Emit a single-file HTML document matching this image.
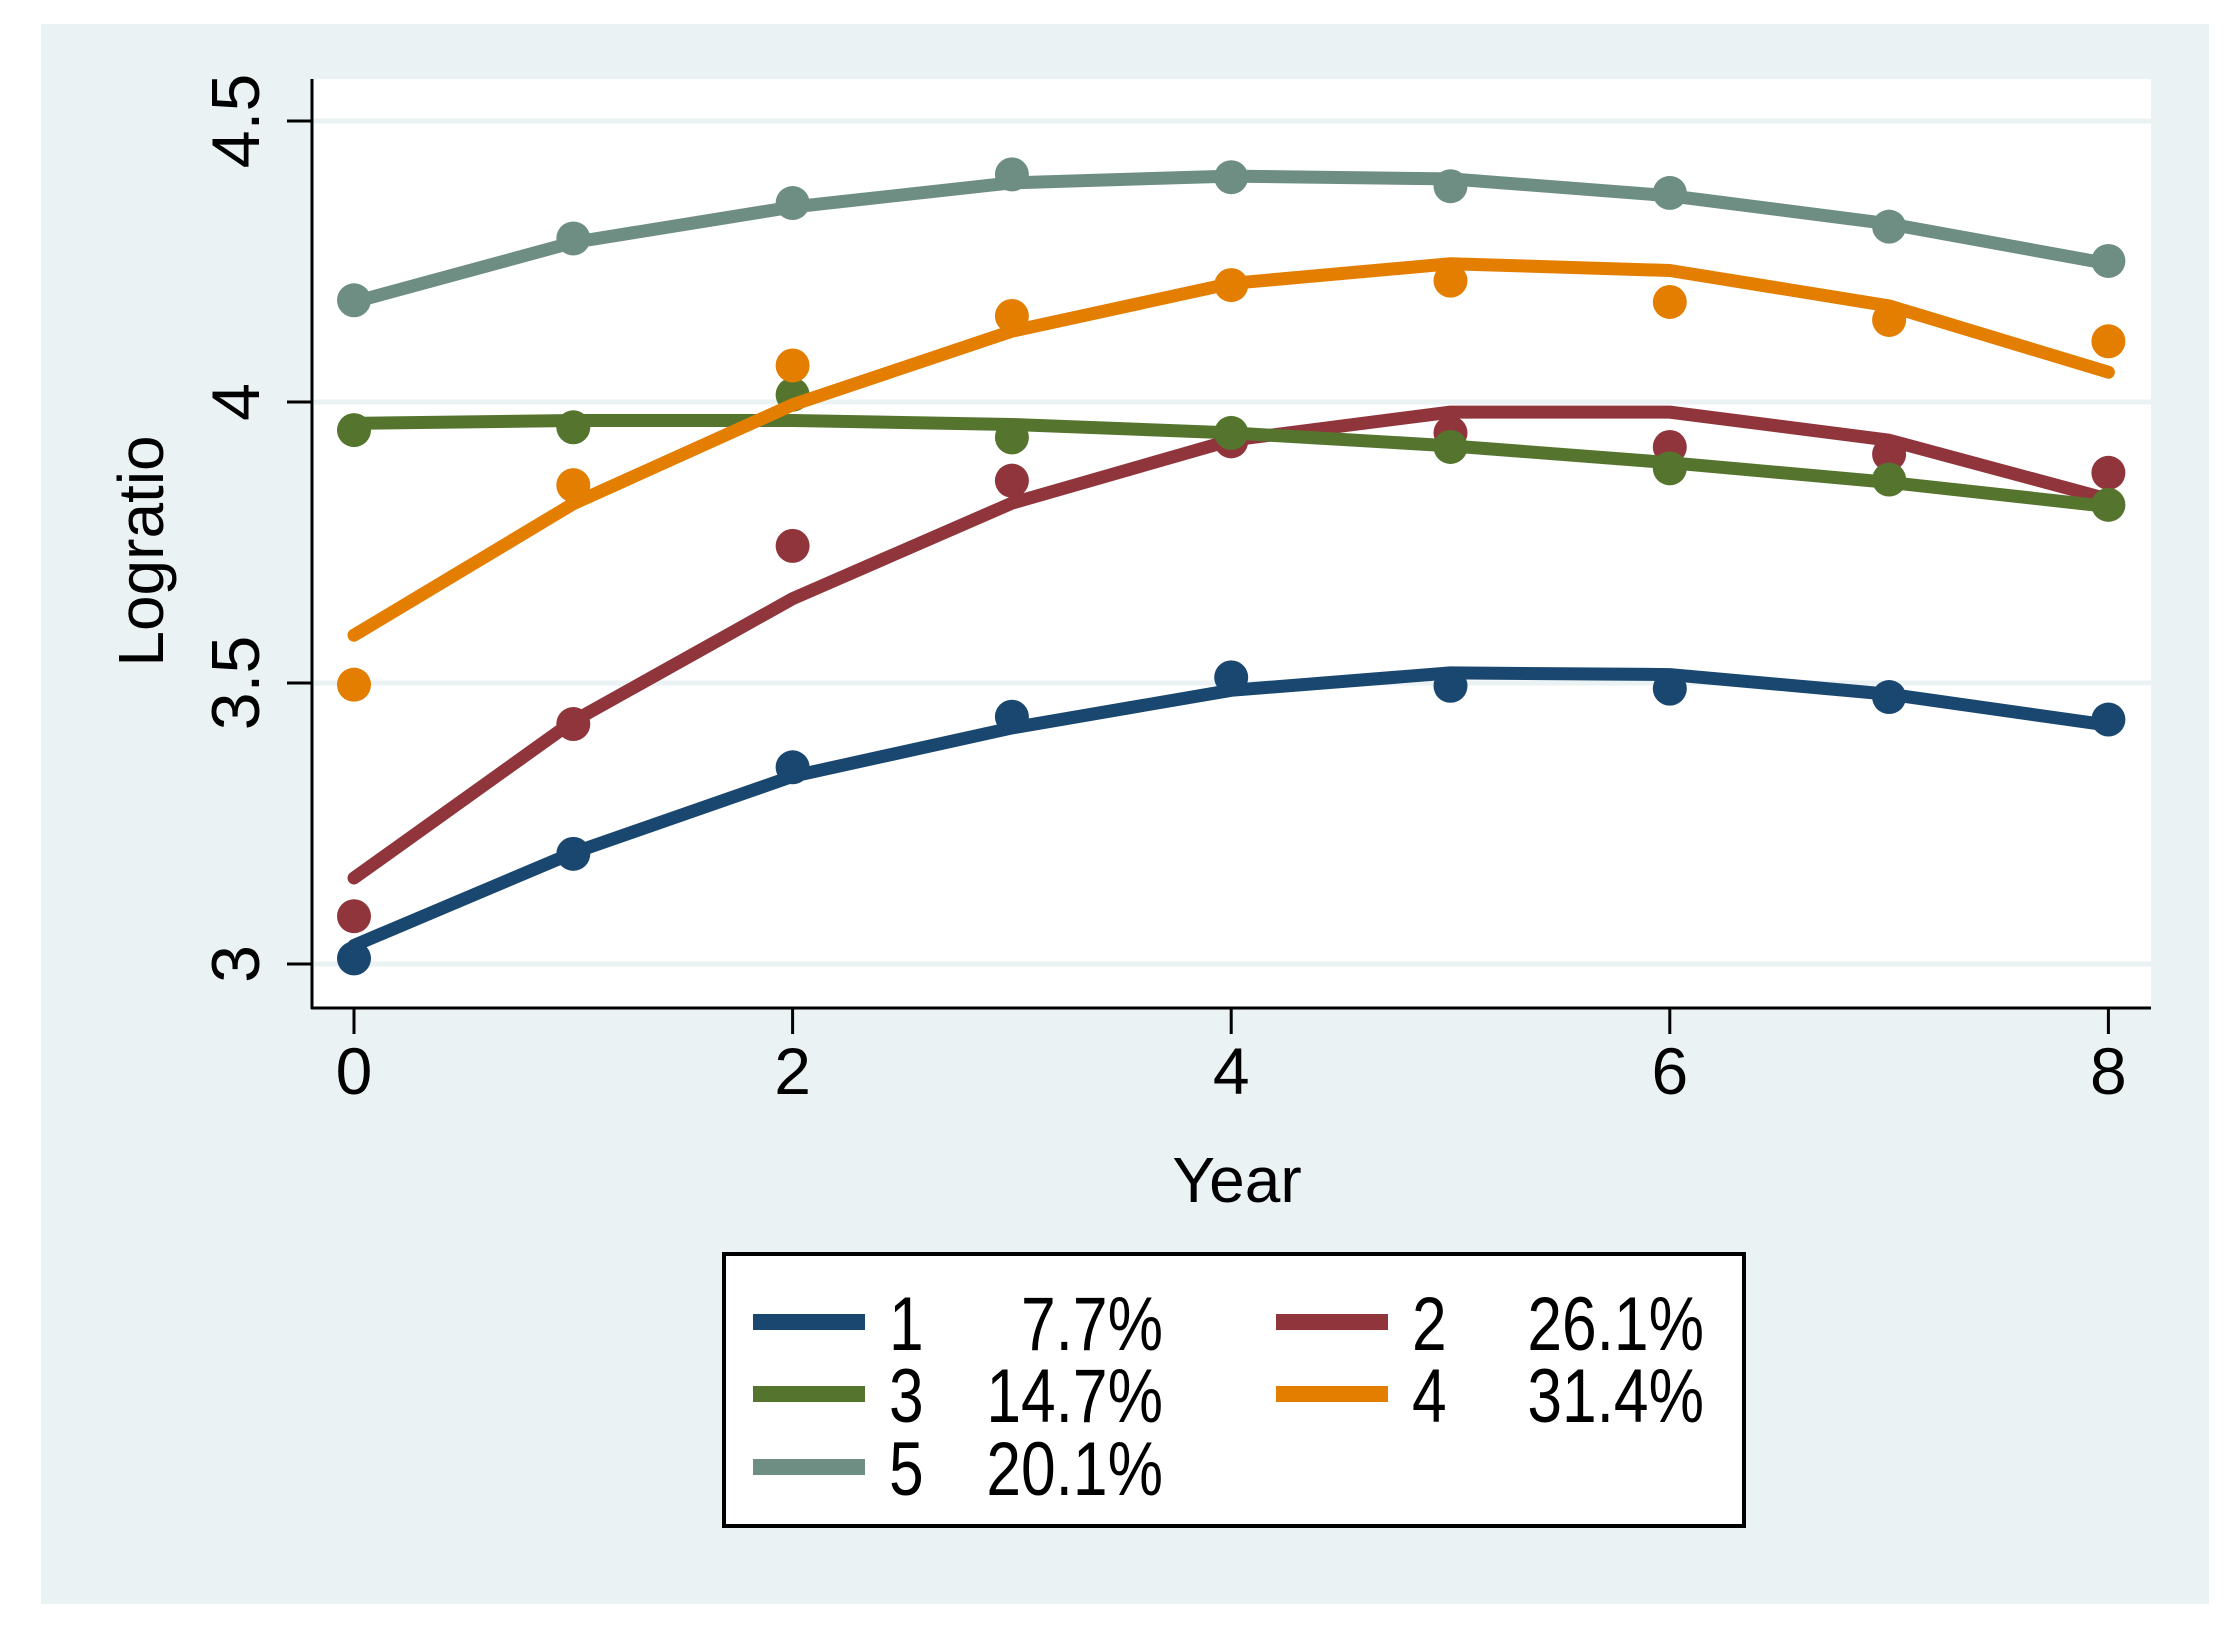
<!DOCTYPE html>
<html><head><meta charset="utf-8"><style>
html,body{margin:0;padding:0;background:#fff;}
svg{display:block;font-family:"Liberation Sans",Arial,sans-serif;}
</style></head><body>
<svg id="chart" width="2225" height="1647" viewBox="0 0 2225 1647" xmlns="http://www.w3.org/2000/svg">
<rect x="41" y="24" width="2168" height="1580" fill="#eaf2f3"/>
<rect x="312" y="79" width="1839" height="929" fill="#ffffff"/>
<g id="grid"></g>
<g id="series"></g>
<line x1="312" y1="79" x2="312" y2="1009" stroke="#000" stroke-width="3"/>
<line x1="311" y1="1008" x2="2151" y2="1008" stroke="#000" stroke-width="3"/>
<g id="axes"></g>
<text x="1237" y="1202" font-size="64" text-anchor="middle">Year</text>
<text transform="translate(163,551) rotate(-90)" font-size="64" text-anchor="middle">Logratio</text>
<g>
<rect x="724" y="1254" width="1020" height="272" fill="#fff" stroke="#000" stroke-width="4"/>
<g id="legend-items"></g>
</g>
</svg>
<script>
const years = [0,1,2,3,4,5,6,7,8];
const seriesNames = ["1","2","3","4","5"];
const seriesPct = ["7.7%","26.1%","14.7%","31.4%","20.1%"];
const seriesColors = ["#1a476f","#90353b","#55752f","#e37e00","#6e8e84"];
const obs1 = [3.01,3.196,3.35,3.44,3.51,3.495,3.49,3.475,3.435];
const fit1 = [3.033,3.198,3.334,3.42,3.487,3.518,3.515,3.48,3.425];
const obs2 = [3.085,3.427,3.744,3.86,3.93,3.945,3.92,3.907,3.874];
const fit2 = [3.153,3.432,3.65,3.82,3.932,3.982,3.982,3.932,3.827];
const obs3 = [3.95,3.955,4.013,3.937,3.945,3.92,3.882,3.862,3.817];
const fit3 = [3.962,3.967,3.967,3.96,3.945,3.922,3.892,3.857,3.814];
const obs4 = [3.497,3.852,4.065,4.153,4.208,4.216,4.178,4.146,4.108];
const fit4 = [3.585,3.819,3.995,4.126,4.211,4.246,4.234,4.171,4.053];
const obs5 = [4.181,4.291,4.354,4.405,4.4,4.384,4.372,4.312,4.251];
const fit5 = [4.178,4.284,4.347,4.39,4.402,4.397,4.367,4.317,4.246];
const yTicks = [3,3.5,4,4.5];
const yTickLabels = ["3","3.5","4","4.5"];
const xTicks = [0,2,4,6,8];
const xTickLabels = ["0","2","4","6","8"];

const NS="http://www.w3.org/2000/svg";
function X(t){return 354+219.3*t;}
function Y(v){return 402-(v-4)*562;}
function mk(tag,attrs,parent){const e=document.createElementNS(NS,tag);for(const k in attrs)e.setAttribute(k,attrs[k]);parent.appendChild(e);return e;}

const grid=document.getElementById('grid');
const axes=document.getElementById('axes');
yTicks.forEach((v,i)=>{
  const g=mk('line',{x1:314,x2:2151,y1:Y(v),y2:Y(v),stroke:'#eaf2f3','stroke-width':5},grid);
  
  
  const t=mk('line',{x1:287,x2:312,y1:Y(v),y2:Y(v),stroke:'#000','stroke-width':3},axes);
  
  
  const l=mk('text',{transform:`translate(259,${Y(v)}) rotate(-90)`,'font-size':68,'text-anchor':'middle'},axes);
  l.textContent=yTickLabels[i];
  
  
});
xTicks.forEach((t,i)=>{
  const k=mk('line',{x1:X(t),x2:X(t),y1:1008,y2:1034,stroke:'#000','stroke-width':3},axes);
  
  
  const l=mk('text',{x:X(t),y:1094,'font-size':66,'text-anchor':'middle'},axes);
  l.textContent=xTickLabels[i];
  
  
});

const obs=[obs1,obs2,obs3,obs4,obs5];
const fits=[fit1,fit2,fit3,fit4,fit5];
const sg=document.getElementById('series');
for(let s=0;s<5;s++){
  const g=mk('g',{},sg);
  
  
  obs[s].forEach((v,i)=>{
    const c=mk('circle',{cx:X(years[i]),cy:Y(v),r:17,fill:seriesColors[s]},g);
    
    
  });
  const pts=fits[s].map((v,i)=>X(years[i])+','+Y(v)).join(' ');
  const p=mk('polyline',{points:pts,fill:'none',stroke:seriesColors[s],'stroke-width':13,'stroke-linejoin':'round','stroke-linecap':'round'},g);
  
  
}

const li=document.getElementById('legend-items');
const pos=[[753,1322],[1276,1322],[753,1394],[1276,1394],[753,1467]];
for(let s=0;s<5;s++){
  const [x,y]=pos[s];
  const r=mk('rect',{x:x,y:y-8,width:112,height:16,fill:seriesColors[s]},li);
  
  
  const t=mk('text',{transform:`translate(${x+136},${y+28}) scale(0.82,1)`,'font-size':76},li);
  t.textContent=seriesNames[s];
  
  
  const px = x + (s%2 ? 428 : 410);
  const p=mk('text',{transform:`translate(${px},${y+28}) scale(0.82,1)`,'font-size':76,'text-anchor':'end'},li);
  p.textContent=seriesPct[s];
  
  
}
</script>
</body></html>
